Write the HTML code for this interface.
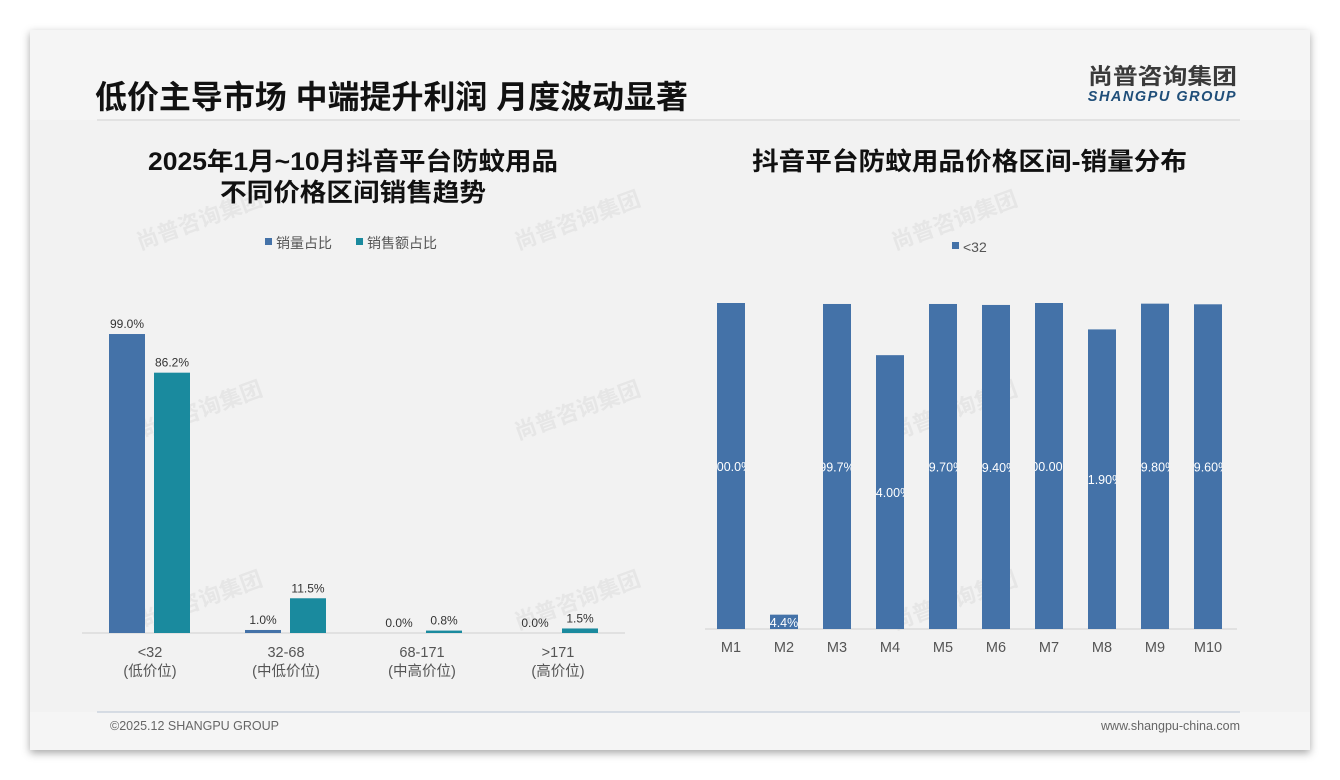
<!DOCTYPE html>
<html><head><meta charset="utf-8">
<style>
body{margin:0;width:1340px;height:780px;background:#fff;overflow:hidden;font-family:"Liberation Sans","Noto Sans CJK SC",sans-serif;}
#card{position:absolute;left:30px;top:30px;width:1280px;height:720px;background:#f2f2f2;box-shadow:0 3px 8px rgba(0,0,0,.35);}
</style></head>
<body>
<div id="card"></div>
<svg id="svg" width="1340" height="780" style="position:absolute;left:0;top:0">
<rect x="30" y="30" width="1280" height="90" fill="#f5f5f5"/>
<rect x="30" y="712" width="1280" height="38" fill="#f5f5f5"/>
<text x="95" y="108" font-size="32" font-weight="bold" fill="#111" textLength="593" lengthAdjust="spacingAndGlyphs">低价主导市场 中端提升利润 月度波动显著</text>
<line x1="97" y1="120" x2="1240" y2="120" stroke="#dcdcdc" stroke-width="1.5"/>
<text x="1088" y="84" font-size="22" font-weight="bold" fill="#3a3a3a" textLength="149" lengthAdjust="spacingAndGlyphs">尚普咨询集团</text>
<text x="1237" y="101" font-size="14.5" font-weight="bold" font-style="italic" fill="#1f4e79" text-anchor="end" letter-spacing="1.5">SHANGPU GROUP</text>
<line x1="97" y1="712" x2="1240" y2="712" stroke="#b8c4d4" stroke-width="1"/>
<text x="110" y="730" font-size="12.5" fill="#666">©2025.12 SHANGPU GROUP</text>
<text x="1240" y="730" font-size="12.5" fill="#666" text-anchor="end">www.shangpu-china.com</text>
<g fill="#dedede" opacity="0.6" font-weight="bold">
<text transform="translate(140,250) rotate(-20)" font-size="22">尚普咨询集团</text>
<text transform="translate(518,250) rotate(-20)" font-size="22">尚普咨询集团</text>
<text transform="translate(895,250) rotate(-20)" font-size="22">尚普咨询集团</text>
<text transform="translate(140,440) rotate(-20)" font-size="22">尚普咨询集团</text>
<text transform="translate(518,440) rotate(-20)" font-size="22">尚普咨询集团</text>
<text transform="translate(895,440) rotate(-20)" font-size="22">尚普咨询集团</text>
<text transform="translate(140,630) rotate(-20)" font-size="22">尚普咨询集团</text>
<text transform="translate(518,630) rotate(-20)" font-size="22">尚普咨询集团</text>
<text transform="translate(895,630) rotate(-20)" font-size="22">尚普咨询集团</text>
</g>
<text x="148" y="170" font-size="25" font-weight="bold" fill="#111" textLength="410" lengthAdjust="spacingAndGlyphs">2025年1月~10月抖音平台防蚊用品</text>
<text x="220" y="201" font-size="25" font-weight="bold" fill="#111" textLength="266" lengthAdjust="spacingAndGlyphs">不同价格区间销售趋势</text>
<text x="752" y="170" font-size="25" font-weight="bold" fill="#111" textLength="435" lengthAdjust="spacingAndGlyphs">抖音平台防蚊用品价格区间-销量分布</text>
<g>
<rect x="265" y="238" width="7" height="7" fill="#4472a8"/><text x="276" y="248" font-size="14" fill="#555">销量占比</text>
<rect x="356" y="238" width="7" height="7" fill="#1a8a9e"/><text x="367" y="248" font-size="14" fill="#555">销售额占比</text>
</g>
<g>
<rect x="952" y="242" width="7" height="7" fill="#4472a8"/><text x="963" y="252" font-size="14" fill="#555">&lt;32</text>
</g>
<line x1="82" y1="633" x2="625" y2="633" stroke="#d0d0d0"/>
<line x1="705" y1="629" x2="1237" y2="629" stroke="#d0d0d0"/>
<g id="left"></g><g id="right"></g><defs id="defs"></defs>
</svg>
<script>
const leftCats=["<32","32-68","68-171",">171"];
const leftSub=["(低价位)","(中低价位)","(中高价位)","(高价位)"];
const volShare=[99.0,1.0,0.0,0.0];
const salesShare=[86.2,11.5,0.8,1.5];
const rightCats=["M1","M2","M3","M4","M5","M6","M7","M8","M9","M10"];
const rightVals=[100.0,4.4,99.7,84.0,99.7,99.4,100.0,91.9,99.8,99.6];
const rightLabels=["100.0%","4.4%","99.7%","84.00%","99.70%","99.40%","100.00%","91.90%","99.80%","99.60%"];
const NS="http://www.w3.org/2000/svg";
function mk(t,a,p){const e=document.createElementNS(NS,t);for(const k in a)e.setAttribute(k,a[k]);p.appendChild(e);return e;}
const L=document.getElementById('left');
const lx=i=>150+i*136, ly=v=>633-v*3.02;
leftCats.forEach((c,i)=>{
 [[volShare,-23,"#4472a8","vol"],[salesShare,22,"#1a8a9e","sales"]].forEach(([arr,off,col,nm])=>{
  const v=arr[i],cx=lx(i)+off,h=Math.max(633-ly(v),0);
  const r=mk('rect',{x:cx-18,y:633-h,width:36,height:h,fill:col},L);
  
  
  const t=mk('text',{x:cx,y:633-h-6,'font-size':12,fill:'#333','text-anchor':'middle'},L);
  t.textContent=v.toFixed(1)+'%';
  
  
 });
 const t1=mk('text',{x:lx(i),y:657,'font-size':14.5,fill:'#555','text-anchor':'middle'},L);t1.textContent=c;
 
 
 const t2=mk('text',{x:lx(i),y:676,'font-size':14.5,fill:'#555','text-anchor':'middle'},L);t2.textContent=leftSub[i];
 
 
});
const R=document.getElementById('right'),D=document.getElementById('defs');
const rx=i=>731+i*53, ry=v=>629-v*3.26;
rightCats.forEach((c,i)=>{
 const v=rightVals[i],cx=rx(i),top=ry(v),h=629-top;
 const r=mk('rect',{x:cx-14,y:top,width:28,height:h,fill:'#4472a8'},R);
 
 
 const cp=mk('clipPath',{id:'cp'+i},D);mk('rect',{x:cx-14,y:top,width:28,height:h},cp);
 const t=mk('text',{x:cx,y:top+h/2+5,'font-size':12.5,fill:'#fff','text-anchor':'middle','clip-path':'url(#cp'+i+')'},R);
 t.textContent=rightLabels[i];
 
 
 const tx=mk('text',{x:cx,y:652,'font-size':14.5,fill:'#555','text-anchor':'middle'},R);tx.textContent=c;
 
 
});
</script>
</body></html>
